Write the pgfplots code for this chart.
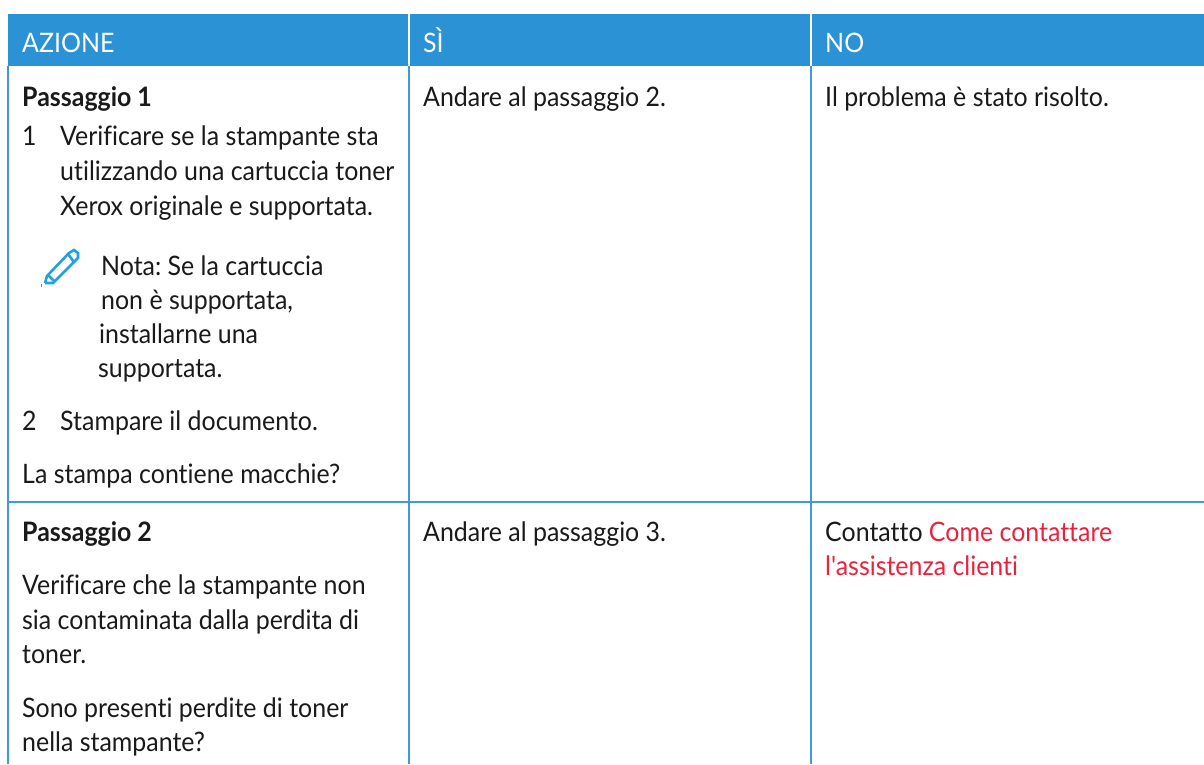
\documentclass[border=0pt]{standalone}
\usepackage{pgfplots}
\pgfplotsset{compat=1.18}
\usepackage{fontspec}
\setmainfont[Ligatures={NoCommon,TeXOff},FakeStretch=0.93]{Lato}
\frenchspacing
\definecolor{hdr}{HTML}{2B92D5}
\definecolor{rule}{HTML}{3F9ADB}
\definecolor{lnk}{HTML}{E8233F}
\definecolor{pen}{HTML}{1FA3E0}
\definecolor{txt}{HTML}{1A1A1A}
\newcommand{\T}[4][txt]{\node[anchor=base west,inner sep=0pt,text=#1,font=\fontsize{26.8}{26.8}\selectfont] at (axis cs:#2,#3) {#4};}
\newcommand{\B}[3]{\node[anchor=base west,inner sep=0pt,text=txt,font=\fontsize{26.8}{26.8}\selectfont\bfseries] at (axis cs:#1,#2) {#3};}
\begin{document}
\begin{tikzpicture}
\begin{axis}[scale only axis,width=1204pt,height=764pt,xmin=0,xmax=1204,ymin=0,ymax=764,y dir=reverse,hide axis,clip=true]
\addplot[fill=white,draw=none] coordinates {(0,0) (1204,0) (1204,764) (0,764)} --cycle;
% header
\addplot[fill=hdr,draw=none] coordinates {(8,14) (1204,14) (1204,66) (8,66)} --cycle;
\addplot[white,line width=1.3pt] coordinates {(409,14) (409,66)};
\addplot[white,line width=1.3pt] coordinates {(811,14) (811,66)};
% grid
\addplot[rule,line width=1.5pt] coordinates {(8,66) (8,764)};
\addplot[rule,line width=1.5pt] coordinates {(409,66) (409,764)};
\addplot[rule,line width=1.5pt] coordinates {(811,66) (811,764)};
\addplot[rule,line width=1.8pt] coordinates {(8,502) (1204,502)};
% pen
\addplot[pen,line width=2.6pt] coordinates {(45,283) (47,276) (69,253) (74,250) (78,253) (78,258) (53,283) (45,283)};
\addplot[pen,line width=2.6pt] coordinates {(68,254) (74,262)};
\addplot[pen,line width=2.6pt] coordinates {(48,275) (54,281)};
\addplot[pen,line width=3pt] coordinates {(40.5,285) (42,285)};
% text
\T[white]{22}{52}{AZIONE}
\T[white]{423}{52}{SÌ}
\T[white]{825}{52}{NO}
\B{22}{106}{Passaggio 1}
\T{22}{145}{1}
\T{60}{145}{Verificare se la stampante sta}
\T{60}{180}{utilizzando una cartuccia toner}
\T{60}{215}{Xerox originale e supportata.}
\T{101}{275}{Nota: Se la cartuccia}
\T{101}{309}{non è supportata,}
\T{99}{343}{installarne una}
\T{98}{377}{supportata.}
\T{22}{430}{2}
\T{60}{430}{Stampare il documento.}
\T{22}{483}{La stampa contiene macchie?}
\T{423}{106}{Andare al passaggio 2.}
\T{825}{106}{Il problema è stato risolto.}
\B{22}{541}{Passaggio 2}
\T{423}{541}{Andare al passaggio 3.}
\T{825}{541}{Contatto \textcolor{lnk}{Come contattare}}
\T[lnk]{825}{575}{l'assistenza clienti}
\T{22}{594}{Verificare che la stampante non}
\T{22}{629}{sia contaminata dalla perdita di}
\T{22}{663}{toner.}
\T{22}{717}{Sono presenti perdite di toner}
\T{22}{751}{nella stampante?}
\end{axis}
\end{tikzpicture}
\end{document}
